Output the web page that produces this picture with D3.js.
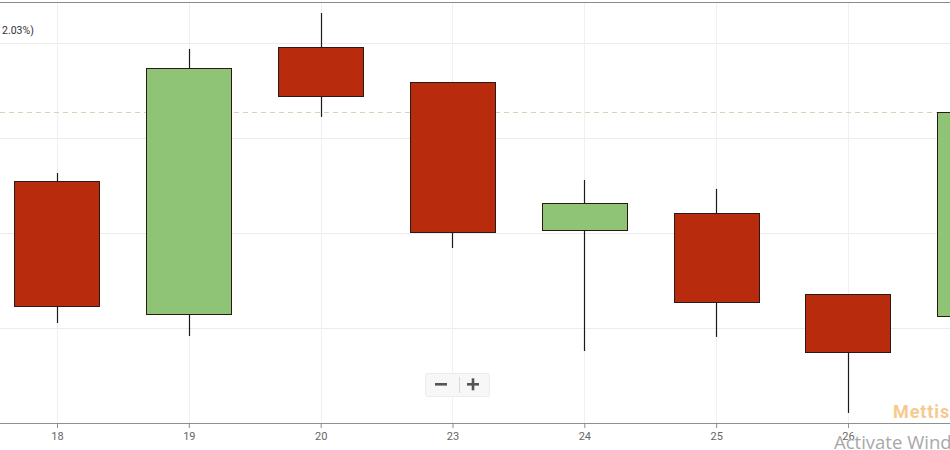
<!DOCTYPE html>
<html><head><meta charset="utf-8">
<script src="https://cdn.jsdelivr.net/npm/d3@7"></script>
<style>
html,body{margin:0;padding:0;background:#fff;overflow:hidden;}
svg{display:block;font-family:Roboto, "Noto Sans", sans-serif;}
</style></head>
<body>
<svg id="chart" width="950" height="450"></svg>
<script>
const categories = ["18","19","20","23","24","25","26","27"];
const openValues  = [412.74, 405.74, 419.79, 417.95, 410.16, 411.05, 406.79, 405.63];
const highValues  = [413.16, 419.68, 421.58, 417.95, 412.79, 412.32, 406.79, 417.00];
const lowValues   = [405.26, 404.58, 416.11, 409.21, 403.79, 404.53, 400.53, 405.00];
const closeValues = [406.16, 418.68, 417.21, 410.05, 411.58, 406.37, 403.74, 416.37];
const gridValues = [405, 410, 415, 420];
const lastPrice = closeValues[closeValues.length - 1];
const headerText = "2.03%)";

const data = categories.map((c, i) => ({
  cat: c, open: openValues[i], high: highValues[i], low: lowValues[i], close: closeValues[i]
}));

const svg = d3.select("#chart");
const W = 950, H = 450;
const plotTop = 2, plotBottom = 423;

const x = d3.scalePoint().domain(categories).range([57, 979.8]);
const y = d3.scaleLinear().domain([400, 420]).range([423, 43]);
const bodyW = x.step() * 0.645;

// top border
svg.append("line").attr("x1", 0).attr("x2", W).attr("y1", 2.5).attr("y2", 2.5)
  .attr("stroke", "#8a8a8a").attr("stroke-width", 1);

// horizontal grid
svg.append("g").selectAll("line").data(gridValues).join("line")
  .attr("x1", 0).attr("x2", W)
  .attr("y1", d => Math.round(y(d)) + 0.5).attr("y2", d => Math.round(y(d)) + 0.5)
  .attr("stroke", "#ececec").attr("stroke-width", 1);

// vertical grid
svg.append("g").selectAll("line").data(categories).join("line")
  .attr("x1", d => Math.round(x(d)) + 0.5).attr("x2", d => Math.round(x(d)) + 0.5)
  .attr("y1", plotTop + 1).attr("y2", plotBottom)
  .attr("stroke", "#f0f0f0").attr("stroke-width", 1);

// last price dashed line
svg.append("line")
  .attr("x1", 0).attr("x2", W)
  .attr("y1", Math.round(y(lastPrice)) + 0.5).attr("y2", Math.round(y(lastPrice)) + 0.5)
  .attr("stroke", "#d6d3b8").attr("stroke-width", 1).attr("stroke-dasharray", "5,4");

// wicks
svg.append("g").selectAll("line").data(data).join("line")
  .attr("x1", d => Math.round(x(d.cat)) + 0.5).attr("x2", d => Math.round(x(d.cat)) + 0.5)
  .attr("y1", d => y(d.high)).attr("y2", d => y(d.low))
  .attr("stroke", "#1a1a1a").attr("stroke-width", 1.2);

// bodies
svg.append("g").selectAll("rect").data(data).join("rect")
  .attr("x", d => Math.round(x(d.cat) - bodyW / 2) + 0.5)
  .attr("y", d => Math.round(y(Math.max(d.open, d.close))) + 0.5)
  .attr("width", Math.round(bodyW))
  .attr("height", d => Math.round(Math.abs(y(d.open) - y(d.close))))
  .attr("fill", d => d.close >= d.open ? "#8fc476" : "#b82c0d")
  .attr("stroke", "#2a1a15").attr("stroke-width", 1);

// x axis (only ticks inside the visible window)
const visibleTicks = categories.filter(c => x(c) < W);
const axis = d3.axisBottom(x).tickValues(visibleTicks).tickSize(5).tickPadding(4);
const gx = svg.append("g").attr("transform", `translate(0,${plotBottom})`).call(axis);
gx.select(".domain").attr("stroke", "#8f8f8f").attr("d", `M0,0.5H${W}`);
gx.selectAll(".tick line").attr("stroke", "#8f8f8f");
gx.selectAll(".tick text").attr("fill", "#666").attr("font-size", 11)
  .attr("font-family", "Roboto, sans-serif");

// header text (clipped label)
svg.append("text").attr("x", 2).attr("y", 34).attr("font-size", 10.5)
  .attr("fill", "#333").text(headerText);

// zoom buttons
const zb = svg.append("g");
zb.append("rect").attr("x", 425.5).attr("y", 373.5).attr("width", 64).attr("height", 23)
  .attr("rx", 2).attr("fill", "#f7f7f7").attr("stroke", "#ececec");
zb.append("line").attr("x1", 459.5).attr("x2", 459.5).attr("y1", 377).attr("y2", 393)
  .attr("stroke", "#d8d8d8");
zb.append("rect").attr("x", 435).attr("y", 383).attr("width", 12).attr("height", 2.6).attr("fill", "#555");
zb.append("rect").attr("x", 467).attr("y", 383).attr("width", 12).attr("height", 2.6).attr("fill", "#555");
zb.append("rect").attr("x", 471.7).attr("y", 378.3).attr("width", 2.6).attr("height", 12).attr("fill", "#555");

// watermarks
svg.append("text").attr("x", 893).attr("y", 418).attr("font-size", 18).attr("font-weight", "bold")
  .attr("letter-spacing", 0.9)
  .attr("fill", "#f6c98e").attr("font-family", "Roboto, sans-serif").text("MettisGlobal");
svg.append("text").attr("x", 834).attr("y", 449).attr("font-size", 18.5)
  .attr("fill", "#a8a8a8").attr("font-family", "'Open Sans', sans-serif").text("Activate Windows");
</script>
</body></html>
